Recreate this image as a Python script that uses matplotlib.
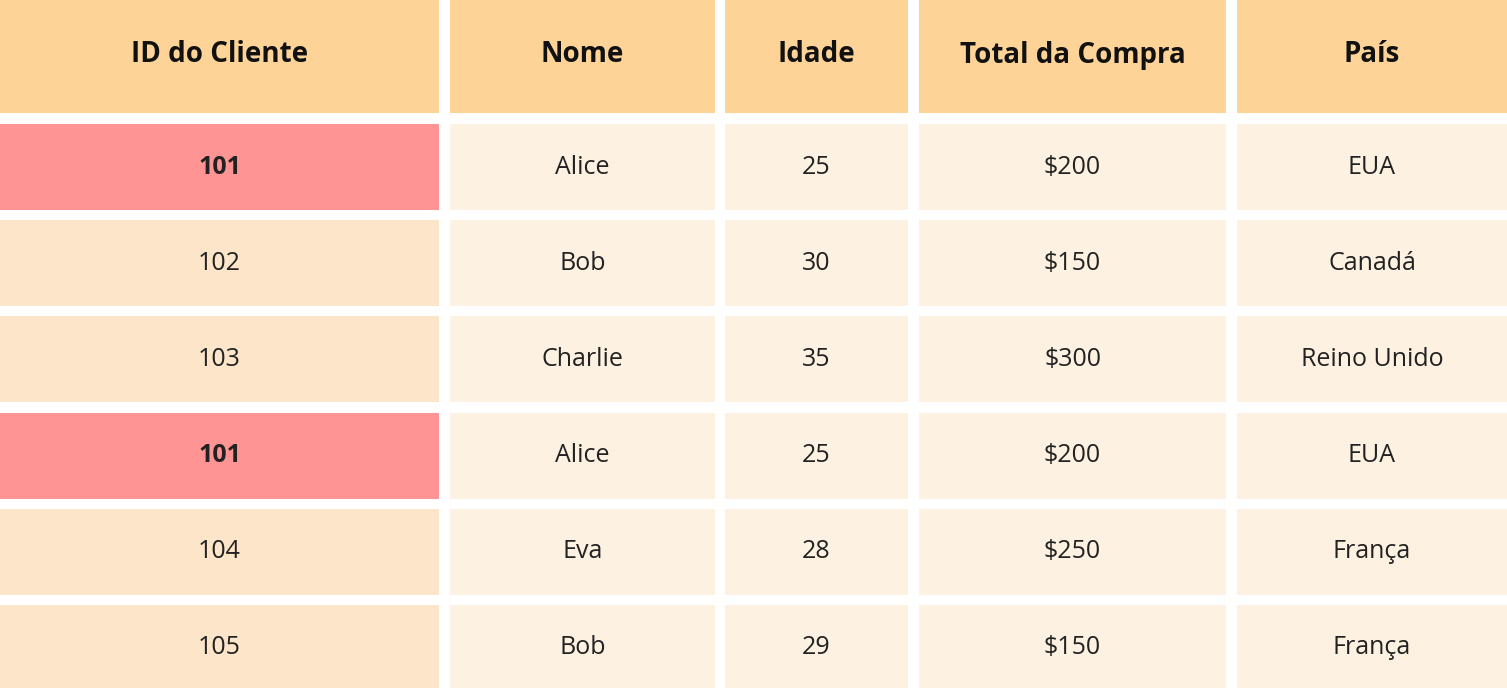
import matplotlib.pyplot as plt
from matplotlib.patches import Rectangle

headers = ["ID do Cliente", "Nome", "Idade", "Total da Compra", "País"]
ids = ["101", "102", "103", "101", "104", "105"]
nomes = ["Alice", "Bob", "Charlie", "Alice", "Eva", "Bob"]
idades = [25, 30, 35, 25, 28, 29]
totais = [200, 150, 300, 200, 250, 150]
paises = ["EUA", "Canadá", "Reino Unido", "EUA", "França", "França"]
duplicado = [True, False, False, True, False, False]

# layout em pixels
col_edges = [(0, 439), (450, 715), (725, 908), (919, 1226), (1237, 1507)]
header_h = 113
row_top0 = 124
row_h = 86
row_step = 96.2

plt.rcParams['font.family'] = ['Open Sans', 'DejaVu Sans']
fig = plt.figure(figsize=(15.07, 6.88), dpi=100)
ax = fig.add_axes([0, 0, 1, 1])
ax.set_xlim(0, 1507)
ax.set_ylim(688, 0)
ax.axis('off')

for (x0, x1), h in zip(col_edges, headers):
    ax.add_patch(Rectangle((x0, 0), x1 - x0, header_h, color='#FDD397', lw=0))
    ax.text((x0 + x1) / 2, 55, h, ha='center', va='center', fontsize=20,
            fontweight='bold', color='#111111')

for i in range(len(ids)):
    y0 = row_top0 + i * row_step
    vals = [ids[i], nomes[i], str(idades[i]), f"${totais[i]}", paises[i]]
    for j, ((x0, x1), v) in enumerate(zip(col_edges, vals)):
        if j == 0:
            c = '#FF9494' if duplicado[i] else '#FCE5C8'
        else:
            c = '#FDF1E1'
        ax.add_patch(Rectangle((x0, y0), x1 - x0, row_h, color=c, lw=0))
        bold = j == 0 and duplicado[i]
        ax.text((x0 + x1) / 2, y0 + row_h / 2, v, ha='center', va='center',
                fontsize=18, fontweight='bold' if bold else 'normal', color='#222222')

fig.savefig("out.png", dpi=100)
